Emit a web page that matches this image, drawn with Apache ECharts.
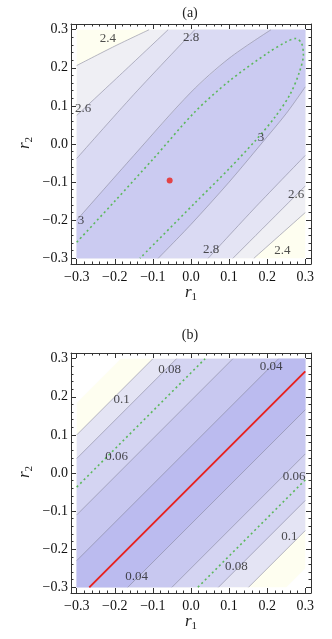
<!DOCTYPE html>
<html><head><meta charset="utf-8">
<script src="https://cdn.jsdelivr.net/npm/echarts@6/dist/echarts.min.js"></script>
<style>html,body{margin:0;padding:0;background:#fff}#c{width:332px;height:639px}</style>
</head><body><div id="c"></div>
<script>
// ---------- tick values ----------
const majorTicks = [-0.3,-0.2,-0.1,0,0.1,0.2,0.3];
const minorTicks = [-0.28,-0.26,-0.24,-0.22,-0.18,-0.16,-0.14,-0.12,-0.08,-0.06,-0.04,-0.02,
                    0.02,0.04,0.06,0.08,0.12,0.14,0.16,0.18,0.22,0.24,0.26,0.28];
const boxTR = [0.3,0.3], boxBL = [-0.3,-0.3];

// ---------- plot (a): contour lines ----------
const a_c24u = [[-0.3,0.206],[-0.2,0.257],[-0.11,0.3]];
const a_c26u = [[-0.3,0.075],[-0.18,0.187],[-0.06,0.3]];
const a_c28u = [[-0.3,-0.038],[-0.15,0.13],[0.01,0.3]];
const a_c3u  = [[-0.3,-0.2],[-0.15,-0.03],[0.0,0.136],[0.1,0.225],[0.21,0.3]];
const a_c3l  = [[-0.086,-0.3],[0.0,-0.211],[0.1,-0.1],[0.184,0.0],[0.25,0.08],[0.3,0.15]];
const a_c28l = [[0.045,-0.3],[0.17,-0.165],[0.3,-0.03]];
const a_c26l = [[0.11,-0.3],[0.3,-0.11]];
const a_c24l = [[0.165,-0.3],[0.3,-0.18]];
const a_green = [[-0.3,-0.258],[-0.2,-0.15],[-0.1,-0.04],[0.01,0.084],[0.1,0.165],[0.2,0.238],
  [0.25,0.268],[0.275,0.277],[0.29,0.265],[0.295,0.235],[0.285,0.19],[0.26,0.13],[0.22,0.07],
  [0.17,0.01],[0.1,-0.065],[0.01,-0.155],[-0.134,-0.3]];
const a_peak = [[-0.056,-0.096]];
const a_labels = [[-0.218,0.277,'2.4'],[-0.283,0.094,'2.6'],[0.0,0.28,'2.8'],[-0.289,-0.2,'3'],
  [0.184,0.016,'3'],[0.276,-0.132,'2.6'],[0.053,-0.276,'2.8'],[0.24,-0.279,'2.4']];

// ---------- plot (b): contour lines ----------
const b_cutU = [[-0.3,0.184],[-0.184,0.3]];
const b_c10u = [[-0.3,0.10],[-0.10,0.3]];
const b_c08u = [[-0.3,0.038],[-0.038,0.3]];
const b_greenU = [[-0.3,-0.037],[0.037,0.3]];
const b_c06u = [[-0.3,-0.11],[0.11,0.3]];
const b_c04u = [[-0.3,-0.23],[0.23,0.3]];
const b_red  = [[-0.267,-0.3],[0.3,0.267]];
const b_c04l = [[-0.166,-0.3],[0.3,0.166]];
const b_c06l = [[-0.05,-0.3],[0.3,0.05]];
const b_greenL = [[0.018,-0.3],[0.3,-0.018]];
const b_c08l = [[0.072,-0.3],[0.3,-0.072]];
const b_c10l = [[0.151,-0.3],[0.3,-0.151]];
const b_cutL = [[0.25,-0.3],[0.3,-0.25]];
const b_labels = [[-0.182,0.192,'0.1'],[-0.056,0.271,'0.08'],[-0.195,0.044,'0.06'],[0.21,0.28,'0.04'],
  [0.271,-0.009,'0.06'],[0.258,-0.166,'0.1'],[0.119,-0.245,'0.08'],[-0.143,-0.271,'0.04']];

// ---------- build regions ----------
function band(upper, lower){ return [...upper, boxTR, ...lower.slice().reverse(), boxBL]; }
const wholeBox = [[-0.3,-0.3],[-0.3,0.3],[0.3,0.3],[0.3,-0.3]];
const regionsA = [
  {pts: wholeBox, color:'#FEFEF0'},
  {pts: band(a_c24u,a_c24l), color:'#EFEFF4'},
  {pts: band(a_c26u,a_c26l), color:'#E4E4F4'},
  {pts: band(a_c28u,a_c28l), color:'#DADAF3'},
  {pts: band(a_c3u,a_c3l), color:'#CBCBF1'}
];
const regionsB = [
  {pts: band(b_cutU,b_cutL), color:'#FEFEF0'},
  {pts: band(b_c10u,b_c10l), color:'#E4E4F4'},
  {pts: band(b_c08u,b_c08l), color:'#D4D4F2'},
  {pts: band(b_c06u,b_c06l), color:'#C8C8F0'},
  {pts: band(b_c04u,b_c04l), color:'#BBBBEF'}
];

const FONT = 'Liberation Serif';
function fmt(v){ return (v < -1e-9 ? '\u2212' : '') + Math.abs(v).toFixed(1); }

function axes(gridIndex, isX){
  const out = [];
  (isX ? ['bottom','top'] : ['left','right']).forEach((p,k)=>{
    out.push({type:'value', gridIndex, position:p, min:-0.315, max:0.315,
      axisLine:{show:true, onZero:false, lineStyle:{color:'#333', width:1}},
      axisTick:{show:true, inside:true, length:5, customValues:majorTicks, lineStyle:{color:'#333'}},
      axisLabel:{show:k===0, customValues:majorTicks, formatter:fmt, margin:isX?6:3,
        fontFamily:FONT, fontSize:14, color:'#111'},
      splitLine:{show:false}});
    out.push({type:'value', gridIndex, position:p, min:-0.315, max:0.315,
      axisLine:{show:false, onZero:false},
      axisTick:{show:true, inside:true, length:2.5, customValues:minorTicks, lineStyle:{color:'#333'}},
      axisLabel:{show:false}, splitLine:{show:false}});
  });
  return out;
}

function regionSeries(regions, ai){
  return {type:'custom', xAxisIndex:ai, yAxisIndex:ai, clip:true, silent:true, z:1,
    data: regions.map((r,i)=>[r.pts[0][0], r.pts[0][1], i]),
    renderItem:(params, api)=>{
      const r = regions[params.dataIndex];
      return {type:'polygon', shape:{points:r.pts.map(p=>api.coord(p))}, style:{fill:r.color}};
    }};
}
function lineSeries(data, ai, style, smooth){
  return {type:'line', xAxisIndex:ai, yAxisIndex:ai, data, showSymbol:false, symbol:'none',
    smooth: smooth||0, silent:true, z:3, lineStyle:style, animation:false};
}
const gray = {color:'rgba(130,130,150,0.7)', width:0.8};
const greenDash = {color:'#5cb85c', width:1.6, type:[2,3]};
function labelSeries(data, ai){
  return {type:'scatter', xAxisIndex:ai, yAxisIndex:ai, data, symbolSize:0, silent:true, z:5,
    label:{show:true, position:'inside', formatter:p=>p.data[2], fontFamily:FONT, fontSize:13, color:'#222'}};
}

const series = [
  regionSeries(regionsA, 0),
  ...[a_c24u,a_c26u,a_c28u,a_c3u,a_c3l,a_c28l,a_c26l,a_c24l].map(d=>lineSeries(d,0,gray,0.3)),
  lineSeries(a_green, 0, greenDash, 0.3),
  {type:'scatter', xAxisIndex:0, yAxisIndex:0, data:a_peak, symbolSize:6, itemStyle:{color:'#e8201c'}, z:6, silent:true},
  labelSeries(a_labels, 0),
  regionSeries(regionsB, 4),
  ...[b_c10u,b_c08u,b_c06u,b_c04u,b_c04l,b_c06l,b_c08l,b_c10l].map(d=>lineSeries(d,4,gray)),
  lineSeries(b_greenU, 4, greenDash), lineSeries(b_greenL, 4, greenDash),
  lineSeries(b_red, 4, {color:'#e8201c', width:1.8}),
  labelSeries(b_labels, 4)
];

const chart = echarts.init(document.getElementById('c'), null, {renderer:'canvas'});
const rText = (sub, x, y, rot) => ({type:'text', x, y, rotation:rot||0,
  style:{text:'{r|r}{s|'+sub+'}', align:'center', verticalAlign:'middle',
    rich:{r:{fontFamily:FONT, fontStyle:'italic', fontSize:17, fill:'#222'},
          s:{fontFamily:FONT, fontSize:11, fill:'#222', padding:[9,0,0,0]}}}});
chart.setOption({
  animation:false,
  backgroundColor:'#fff',
  grid:[{left:71, top:24, width:240, height:240}, {left:71, top:353, width:240, height:240}],
  xAxis:[...axes(0,true), ...axes(1,true)],
  yAxis:[...axes(0,false), ...axes(1,false)],
  series,
  graphic:[
    {type:'text', x:190, y:13, style:{text:'(a)', font:'14px "Liberation Serif"', fill:'#222', align:'center', verticalAlign:'middle'}},
    {type:'text', x:190, y:335, style:{text:'(b)', font:'14px "Liberation Serif"', fill:'#222', align:'center', verticalAlign:'middle'}},
    rText('1', 191, 293),
    rText('1', 191, 622),
    rText('2', 25, 143, Math.PI/2),
    rText('2', 25, 472, Math.PI/2)
  ]
});
</script></body></html>
